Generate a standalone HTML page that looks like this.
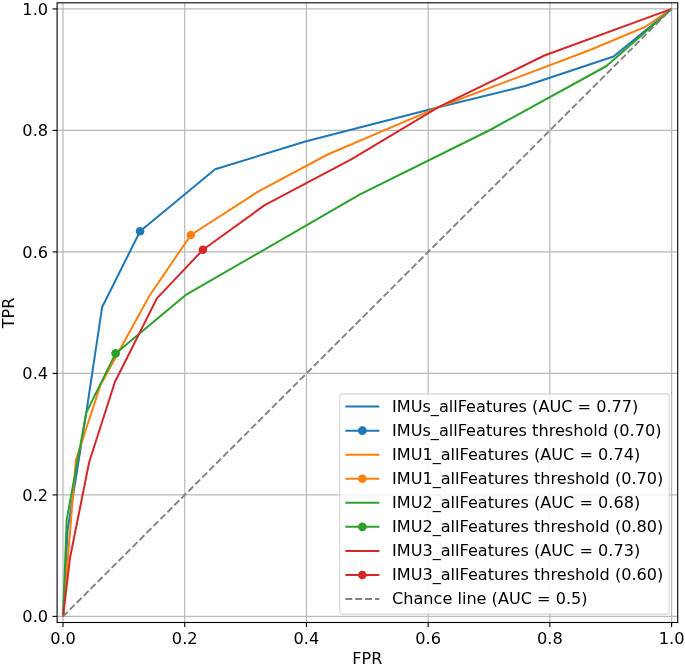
<!DOCTYPE html>
<html><head><meta charset="utf-8"><title>ROC curves</title>
<style>
html,body{margin:0;padding:0;background:#fff;}
svg{display:block;}
text{font-family:"DejaVu Sans","Liberation Sans",sans-serif;fill:#000;}
.t{font-size:16.2px;}
.l{font-size:16.11px;}
.a{font-size:16.0px;}
.g{stroke:#b8b8b8;stroke-width:1.2;fill:none;}
.k{stroke:#000;stroke-width:1.1;fill:none;}
.c{fill:none;stroke-width:2.0;stroke-linejoin:round;stroke-linecap:butt;}
</style></head><body>
<svg width="685" height="667" viewBox="0 0 685 667">
<rect x="0" y="0" width="685" height="667" fill="#fff"/>
<clipPath id="ax"><rect x="57.1" y="2.8" width="620.6" height="619.7"/></clipPath>
<line class="g" x1="63.00" y1="2.8" x2="63.00" y2="622.5"/>
<line class="g" x1="57.1" y1="616.40" x2="677.7" y2="616.40"/>
<line class="g" x1="184.72" y1="2.8" x2="184.72" y2="622.5"/>
<line class="g" x1="57.1" y1="494.90" x2="677.7" y2="494.90"/>
<line class="g" x1="306.44" y1="2.8" x2="306.44" y2="622.5"/>
<line class="g" x1="57.1" y1="373.40" x2="677.7" y2="373.40"/>
<line class="g" x1="428.16" y1="2.8" x2="428.16" y2="622.5"/>
<line class="g" x1="57.1" y1="251.90" x2="677.7" y2="251.90"/>
<line class="g" x1="549.88" y1="2.8" x2="549.88" y2="622.5"/>
<line class="g" x1="57.1" y1="130.40" x2="677.7" y2="130.40"/>
<line class="g" x1="671.60" y1="2.8" x2="671.60" y2="622.5"/>
<line class="g" x1="57.1" y1="8.90" x2="677.7" y2="8.90"/>
<line class="k" x1="63.00" y1="622.5" x2="63.00" y2="627.1"/>
<line class="k" x1="52.5" y1="616.40" x2="57.1" y2="616.40"/>
<text class="t" x="63.00" y="643.6" text-anchor="middle">0.0</text>
<text class="t" x="48.1" y="622.40" text-anchor="end">0.0</text>
<line class="k" x1="184.72" y1="622.5" x2="184.72" y2="627.1"/>
<line class="k" x1="52.5" y1="494.90" x2="57.1" y2="494.90"/>
<text class="t" x="184.72" y="643.6" text-anchor="middle">0.2</text>
<text class="t" x="48.1" y="500.90" text-anchor="end">0.2</text>
<line class="k" x1="306.44" y1="622.5" x2="306.44" y2="627.1"/>
<line class="k" x1="52.5" y1="373.40" x2="57.1" y2="373.40"/>
<text class="t" x="306.44" y="643.6" text-anchor="middle">0.4</text>
<text class="t" x="48.1" y="379.40" text-anchor="end">0.4</text>
<line class="k" x1="428.16" y1="622.5" x2="428.16" y2="627.1"/>
<line class="k" x1="52.5" y1="251.90" x2="57.1" y2="251.90"/>
<text class="t" x="428.16" y="643.6" text-anchor="middle">0.6</text>
<text class="t" x="48.1" y="257.90" text-anchor="end">0.6</text>
<line class="k" x1="549.88" y1="622.5" x2="549.88" y2="627.1"/>
<line class="k" x1="52.5" y1="130.40" x2="57.1" y2="130.40"/>
<text class="t" x="549.88" y="643.6" text-anchor="middle">0.8</text>
<text class="t" x="48.1" y="136.40" text-anchor="end">0.8</text>
<line class="k" x1="671.60" y1="622.5" x2="671.60" y2="627.1"/>
<line class="k" x1="52.5" y1="8.90" x2="57.1" y2="8.90"/>
<text class="t" x="671.60" y="643.6" text-anchor="middle">1.0</text>
<text class="t" x="48.1" y="14.90" text-anchor="end">1.0</text>
<g clip-path="url(#ax)">
<polyline class="c" stroke="#1f77b4" points="63.1,616.4 67.6,530.0 86.3,412.6 102.1,307.3 140.1,231.2 215.1,169.3 306.2,141.2 438.5,107.2 525.0,86.0 613.6,56.5 671.6,8.9"/>
<circle cx="140.1" cy="231.2" r="4.3" fill="#1f77b4"/>
<polyline class="c" stroke="#ff7f0e" points="63.1,616.4 75.9,460.0 100.5,385.0 149.0,296.5 190.8,235.0 259.4,190.8 327.7,154.5 438.5,107.2 590.0,50.0 645.0,27.0 671.6,8.9"/>
<circle cx="190.8" cy="235" r="4.3" fill="#ff7f0e"/>
<polyline class="c" stroke="#2ca02c" points="63.1,616.4 66.7,519.7 86.3,412.6 115.6,353.4 185.4,295.2 360.0,194.4 489.0,130.5 606.5,66.0 671.6,8.9"/>
<circle cx="115.6" cy="353.4" r="4.3" fill="#2ca02c"/>
<polyline class="c" stroke="#d62728" points="63.1,616.4 70.0,558.0 89.2,462.0 115.0,381.8 156.9,298.4 202.9,249.8 264.7,205.1 351.2,159.3 438.5,107.2 544.4,55.5 671.6,8.9"/>
<circle cx="202.9" cy="249.8" r="4.3" fill="#d62728"/>
<line x1="63.1" y1="616.4" x2="671.6" y2="8.9" stroke="#808080" stroke-width="1.85" stroke-dasharray="6.87 2.985" stroke-dashoffset="0.4" fill="none"/>
</g>
<rect x="57.1" y="2.8" width="620.6" height="619.7" fill="none" stroke="#000" stroke-width="1.1"/>
<text class="a" x="367.3" y="663.7" text-anchor="middle">FPR</text>
<text class="a" transform="translate(14.2,312.9) rotate(-90)" text-anchor="middle">TPR</text>
<rect x="339.7" y="393.9" width="329.5" height="220.2" rx="3.2" ry="3.2" fill="#fff" fill-opacity="0.8" stroke="#ccc" stroke-opacity="0.8" stroke-width="1.1"/>
<line x1="345.4" y1="406.60" x2="379.3" y2="406.60" stroke="#1f77b4" stroke-width="2.0"/>
<text class="l" x="392.0" y="411.90">IMUs_allFeatures (AUC = 0.77)</text>
<line x1="345.4" y1="430.65" x2="379.3" y2="430.65" stroke="#1f77b4" stroke-width="2.0"/>
<circle cx="362.35" cy="430.65" r="4.3" fill="#1f77b4"/>
<text class="l" x="392.0" y="435.95">IMUs_allFeatures threshold (0.70)</text>
<line x1="345.4" y1="454.70" x2="379.3" y2="454.70" stroke="#ff7f0e" stroke-width="2.0"/>
<text class="l" x="392.0" y="460.00">IMU1_allFeatures (AUC = 0.74)</text>
<line x1="345.4" y1="478.75" x2="379.3" y2="478.75" stroke="#ff7f0e" stroke-width="2.0"/>
<circle cx="362.35" cy="478.75" r="4.3" fill="#ff7f0e"/>
<text class="l" x="392.0" y="484.05">IMU1_allFeatures threshold (0.70)</text>
<line x1="345.4" y1="502.80" x2="379.3" y2="502.80" stroke="#2ca02c" stroke-width="2.0"/>
<text class="l" x="392.0" y="508.10">IMU2_allFeatures (AUC = 0.68)</text>
<line x1="345.4" y1="526.85" x2="379.3" y2="526.85" stroke="#2ca02c" stroke-width="2.0"/>
<circle cx="362.35" cy="526.85" r="4.3" fill="#2ca02c"/>
<text class="l" x="392.0" y="532.15">IMU2_allFeatures threshold (0.80)</text>
<line x1="345.4" y1="550.90" x2="379.3" y2="550.90" stroke="#d62728" stroke-width="2.0"/>
<text class="l" x="392.0" y="556.20">IMU3_allFeatures (AUC = 0.73)</text>
<line x1="345.4" y1="574.95" x2="379.3" y2="574.95" stroke="#d62728" stroke-width="2.0"/>
<circle cx="362.35" cy="574.95" r="4.3" fill="#d62728"/>
<text class="l" x="392.0" y="580.25">IMU3_allFeatures threshold (0.60)</text>
<line x1="345.4" y1="599.00" x2="379.3" y2="599.00" stroke="#808080" stroke-width="1.85" stroke-dasharray="6.87 2.985"/>
<text class="l" x="392.0" y="604.30">Chance line (AUC = 0.5)</text>
</svg></body></html>
